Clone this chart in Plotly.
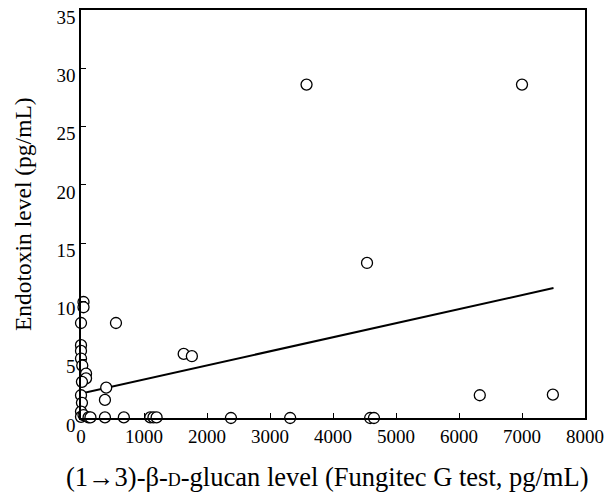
import plotly.graph_objects as go

# Data (x: (1->3)-beta-D-glucan pg/mL, y: endotoxin pg/mL)
glucan = [3580, 7000, 4540, 6330, 7490,
          2380, 3320, 4590, 4650,
          40, 40, 0, 555, 0, 0, 0, 20, 80, 80, 15, 400, 0, 380, 15, 0,
          0, 40, 120, 150, 380, 680, 1100, 1150, 1200, 1630, 1760]
endotoxin = [28.6, 28.6, 13.3, 1.95, 2.0,
             0, 0, 0, 0,
             9.95, 9.5, 8.15, 8.15, 6.25, 5.75, 5.1, 4.5, 3.8, 3.4, 3.1, 2.6, 1.95, 1.55, 1.3, 0.55,
             0.1, 0.25, 0.05, 0.05, 0.05, 0.05, 0.05, 0.05, 0.05, 5.5, 5.3]

# Regression line endpoints
line_x = [0, 7500]
line_y = [2.1, 11.15]

x_ticks = [0, 1000, 2000, 3000, 4000, 5000, 6000, 7000, 8000]
y_ticks = [0, 5, 10, 15, 20, 25, 30, 35]

x_title = "(1→3)-β-<span style='font-size:18px'>D</span>-glucan level (Fungitec G test, pg/mL)"
y_title = "Endotoxin level (pg/mL)"

font_family = "Liberation Serif, Times New Roman, serif"

fig = go.Figure()
fig.add_trace(go.Scatter(x=line_x, y=line_y, mode="lines",
                         line=dict(color="black", width=2), showlegend=False,
                         hoverinfo="skip"))
fig.add_trace(go.Scatter(x=glucan, y=endotoxin, mode="markers",
                         marker=dict(symbol="circle", size=11, color="white",
                                     line=dict(color="black", width=1.3)),
                         cliponaxis=False, showlegend=False))

# The page body has an 8px default margin, so the figure is sized to fit the window
fig.update_layout(
    width=605, height=493,
    margin=dict(l=73, r=28, t=2, b=83),
    paper_bgcolor="white", plot_bgcolor="white",
    font=dict(family=font_family, color="black", size=19),
    xaxis=dict(range=[0, 8000], tickvals=x_ticks, ticktext=[str(v) for v in x_ticks],
               ticks="inside", ticklen=5, tickwidth=1, tickcolor="black",
               showline=True, linecolor="black", linewidth=1.6, mirror=True,
               showgrid=False, zeroline=False, tickfont=dict(size=19),
               ticklabeloverflow="allow", automargin=False),
    yaxis=dict(range=[0, 35], tickvals=y_ticks, ticktext=[str(v) for v in y_ticks],
               ticks="inside", ticklen=5, tickwidth=1, tickcolor="black",
               showline=True, linecolor="black", linewidth=1.6, mirror=True,
               showgrid=False, zeroline=False, tickfont=dict(size=19),
               ticklabelshift=7, ticklabeloverflow="allow", automargin=False),
    annotations=[
        dict(text=x_title, xref="paper", yref="paper", x=0.49, y=-0.145,
             xanchor="center", yanchor="middle", showarrow=False,
             font=dict(size=26.5)),
        dict(text=y_title, xref="paper", yref="paper", x=-0.115, y=0.5,
             xanchor="center", yanchor="middle", showarrow=False, textangle=-90,
             font=dict(size=23.5)),
    ],
)

fig.write_html("out.html")
